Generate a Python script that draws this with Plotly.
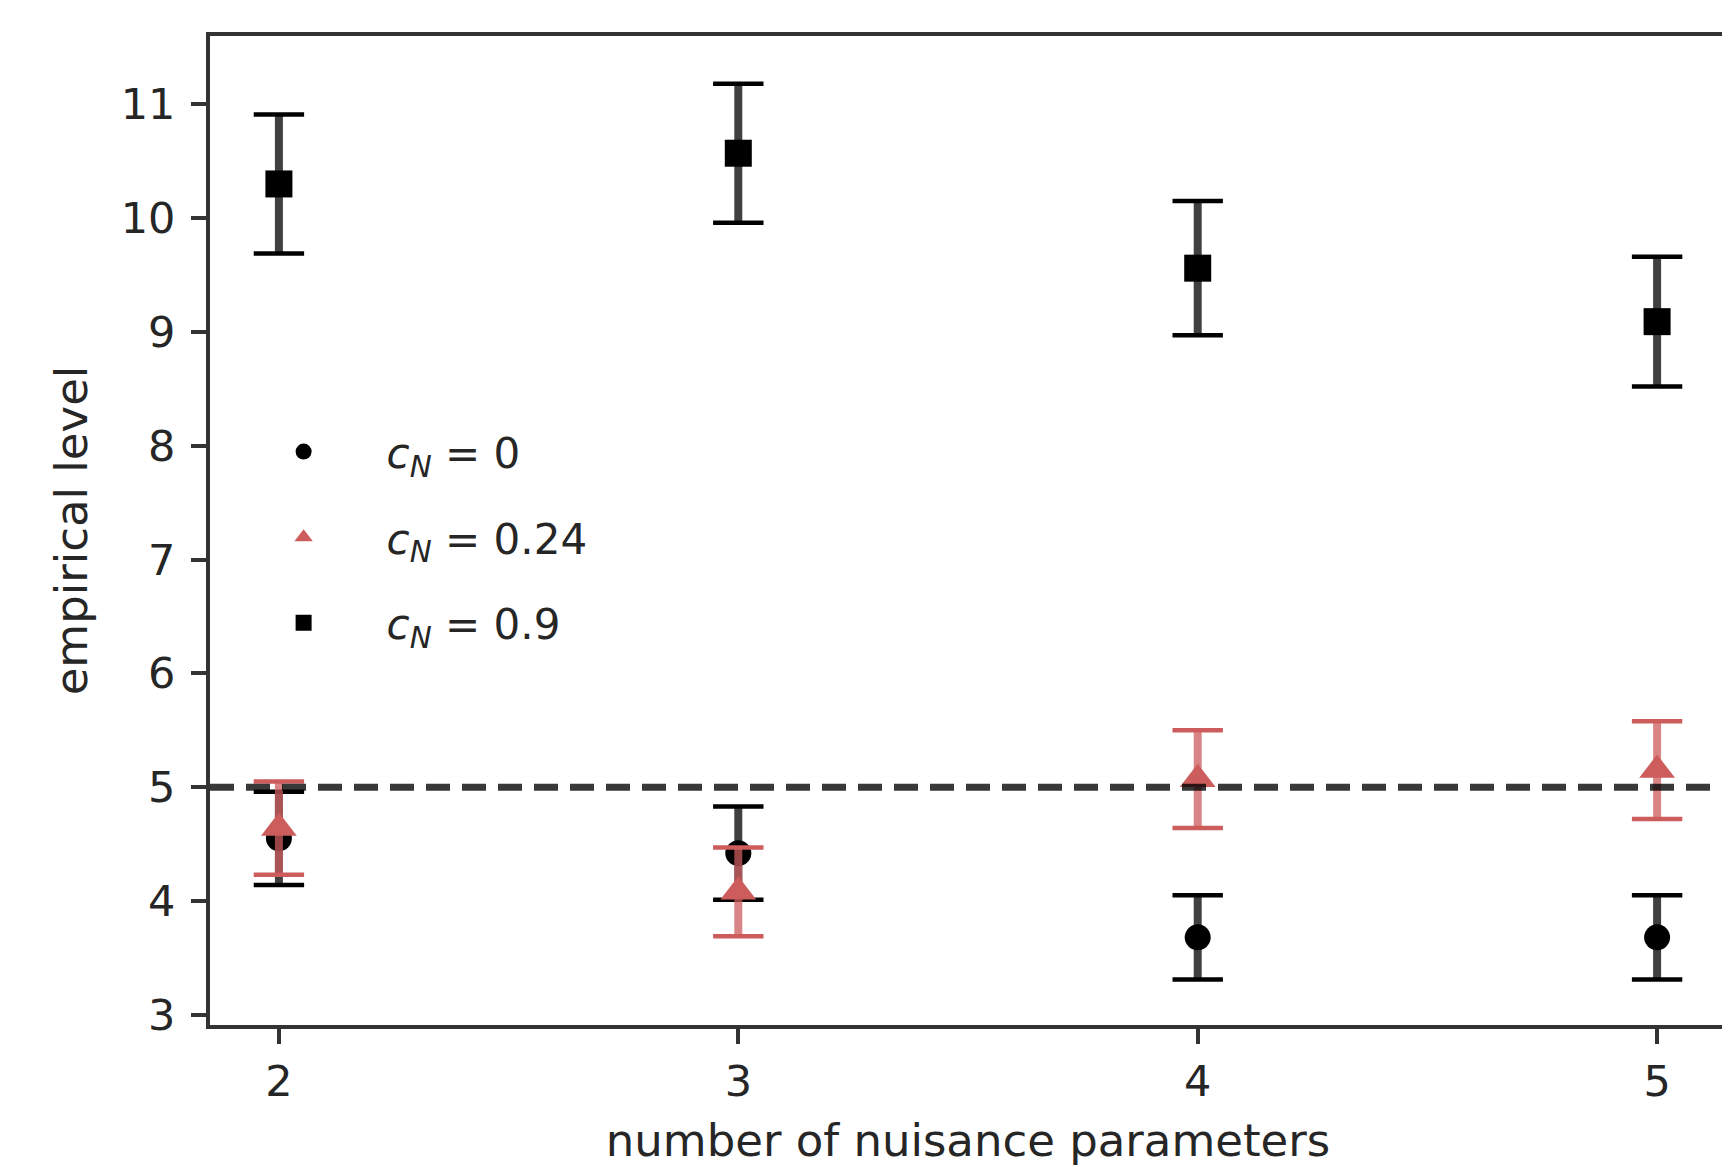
import plotly.graph_objects as go

# ---- data ----
n_params = [2, 3, 4, 5]
x_ticks = [2, 3, 4, 5]
y_ticks = [3, 4, 5, 6, 7, 8, 9, 10, 11]

level_c0 = [4.55, 4.42, 3.68, 3.68]
err_c0 = [0.41, 0.41, 0.37, 0.37]

level_c024 = [4.64, 4.08, 5.07, 5.15]
err_c024 = [0.41, 0.39, 0.43, 0.43]

level_c09 = [10.30, 10.57, 9.56, 9.09]
err_c09 = [0.61, 0.61, 0.59, 0.57]

nominal_level = 5

labels = ["<i>c</i><sub><i>N</i></sub> = 0",
          "<i>c</i><sub><i>N</i></sub> = 0.24",
          "<i>c</i><sub><i>N</i></sub> = 0.9"]

FONT = "DejaVu Sans"
TXT = "#262626"

series = [
    (level_c0, err_c0, labels[0], "circle", "#000000", "rgba(0,0,0,0.75)", 26, "g0"),
    (level_c024, err_c024, labels[1], "triangle-up", "#CD5C5C", "rgba(205,92,92,0.75)", 31, "g1"),
    (level_c09, err_c09, labels[2], "square", "#000000", "rgba(0,0,0,0.75)", 27, "g2"),
]

fig = go.Figure()

for vals, errs, name, sym, col, stem, msize, grp in series:
    # markers + stems
    fig.add_trace(go.Scatter(
        x=n_params, y=vals, mode="markers", name=name, legendgroup=grp,
        marker=dict(symbol=sym, size=msize, color=col, line=dict(width=0)),
        error_y=dict(type="data", array=errs, visible=True, color=stem,
                     thickness=8, width=0),
        showlegend=True,
    ))
    # caps
    cap_x = n_params + n_params
    cap_y = [v + e for v, e in zip(vals, errs)] + [v - e for v, e in zip(vals, errs)]
    fig.add_trace(go.Scatter(
        x=cap_x, y=cap_y, mode="markers", showlegend=False, hoverinfo="skip",
        legendgroup=grp,
        marker=dict(symbol="line-ew", size=36, color=col,
                    line=dict(width=4.5, color=col)),
    ))

fig.add_shape(type="line", xref="paper", x0=0, x1=1, yref="y",
              y0=nominal_level, y1=nominal_level,
              line=dict(color="rgba(0,0,0,0.78)", width=7, dash="24px,12px"),
              layer="above")

axis_common = dict(
    showline=True, linecolor="#333333", linewidth=4, mirror=True,
    ticks="outside", ticklen=15, tickwidth=4, tickcolor="#333333",
    showgrid=False, zeroline=False,
    tickfont=dict(family=FONT, size=43, color=TXT),
)

fig.update_xaxes(range=[1.85, 5.15], tickmode="array", tickvals=x_ticks,
                 ticktext=[str(v) for v in x_ticks],
                 title=dict(text="number of nuisance parameters",
                            font=dict(family=FONT, size=45, color=TXT), standoff=22),
                 **axis_common)
fig.update_yaxes(range=[2.91, 11.6], tickmode="array", tickvals=y_ticks,
                 ticktext=[str(v) for v in y_ticks], ticklabelstandoff=7,
                 title=dict(text="empirical level",
                            font=dict(family=FONT, size=45, color=TXT), standoff=20),
                 **axis_common)

# page body has an 8px margin: size figure to fit the window exactly
fig.update_layout(
    width=1722, height=1159,
    margin=dict(l=202, r=0, t=28, b=142),
    paper_bgcolor="white", plot_bgcolor="white",
    font=dict(family=FONT, color=TXT),
    legend=dict(x=0.007, y=0.614, xanchor="left", yanchor="top",
                bgcolor="rgba(255,255,255,0)", borderwidth=0,
                font=dict(family=FONT, size=42, color=TXT),
                itemwidth=156, traceorder="grouped", tracegroupgap=28),
    showlegend=True,
)

fig.write_html("out.html")
